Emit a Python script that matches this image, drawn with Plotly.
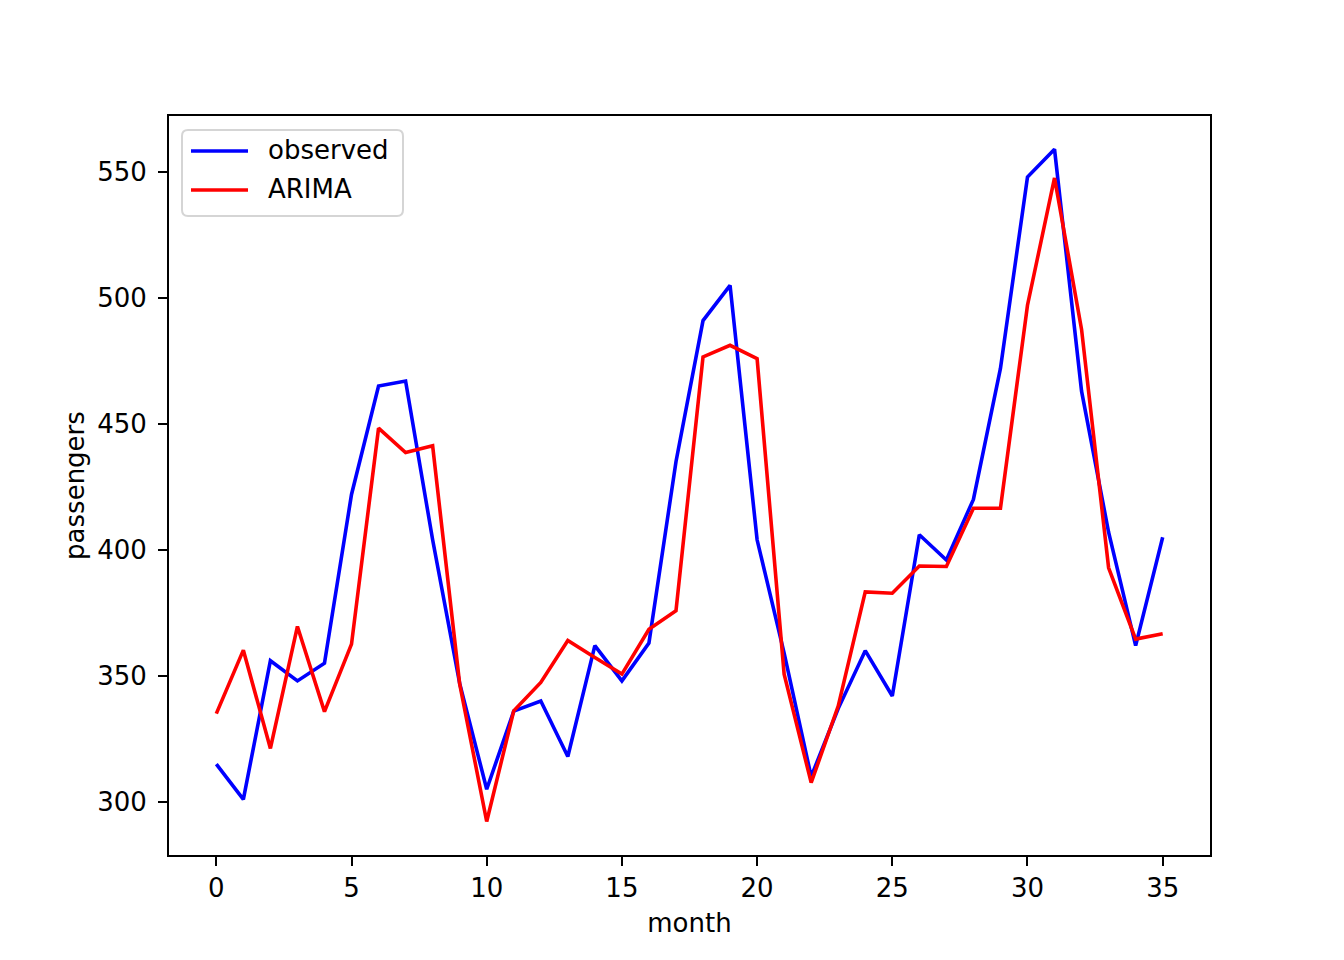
import plotly.graph_objects as go

months = list(range(36))
observed = [315, 301, 356, 348, 355, 422, 465, 467, 404, 347, 305, 336,
            340, 318, 362, 348, 363, 435, 491, 505, 404, 359, 310, 337,
            360, 342, 406, 396, 420, 472, 548, 559, 463, 407, 362, 405]
arima = [335.0, 360.2, 321.2, 369.6, 335.8, 362.6, 448.3, 438.6, 441.3, 346.8, 292.2, 336.1,
         347.4, 364.0, 357.3, 350.7, 368.5, 375.8, 476.6, 481.2, 475.9, 350.7, 307.6, 338.0,
         383.3, 382.8, 393.6, 393.4, 416.5, 416.5, 497.1, 547.6, 487.5, 392.9, 364.6, 366.7]
x_ticks = [0, 5, 10, 15, 20, 25, 30, 35]
y_ticks = [300, 350, 400, 450, 500, 550]
series_names = ["observed", "ARIMA"]
series_colors = ["#0000ff", "#ff0000"]

FONT = "DejaVu Sans"
FS = 26
LW = 3.6

# plot area geometry (figure pixels)
W, H = 1328, 944
L, T = 161, 108
PW, PH = 1041, 739

def px(sx):
    return (sx - L) / PW

def py(sy):
    return (T + PH - sy) / PH

fig = go.Figure()
for name, vals, col in zip(series_names, [observed, arima], series_colors):
    fig.add_trace(go.Scatter(x=months, y=vals, mode="lines", name=name,
                             line=dict(color=col, width=LW), showlegend=False))

axis_common = dict(showgrid=False, zeroline=False, showline=True, mirror=True,
                   linecolor="black", linewidth=2, ticks="outside", ticklen=9,
                   tickwidth=2, tickcolor="black",
                   tickfont=dict(family=FONT, size=FS, color="black"))

fig.update_xaxes(range=[-1.75, 36.75], tickvals=x_ticks,
                 title=dict(text="month", font=dict(family=FONT, size=FS, color="black"), standoff=12),
                 **axis_common)
fig.update_yaxes(range=[278.9, 572.2], tickvals=y_ticks, ticklabelstandoff=6,
                 title=dict(text="passengers", font=dict(family=FONT, size=FS, color="black"), standoff=5),
                 **axis_common)

# legend box (rounded) drawn in paper coordinates
x0, x1 = px(174), px(395)
y0, y1 = py(208), py(122)
rx, ry = 6 / PW, 6 / PH
path = (f"M {x0+rx},{y1} L {x1-rx},{y1} Q {x1},{y1} {x1},{y1-ry} "
        f"L {x1},{y0+ry} Q {x1},{y0} {x1-rx},{y0} L {x0+rx},{y0} "
        f"Q {x0},{y0} {x0},{y0+ry} L {x0},{y1-ry} Q {x0},{y1} {x0+rx},{y1} Z")
shapes = [dict(type="path", xref="paper", yref="paper", path=path,
               fillcolor="rgba(255,255,255,0.8)", line=dict(color="#d5d5d5", width=2),
               layer="above")]
annotations = []
for i, (name, col) in enumerate(zip(series_names, series_colors)):
    sy = 143 + i * 39
    shapes.append(dict(type="line", xref="paper", yref="paper",
                       x0=px(183), x1=px(240), y0=py(sy), y1=py(sy),
                       line=dict(color=col, width=LW), layer="above"))
    annotations.append(dict(text=name, xref="paper", yref="paper",
                            x=px(258), y=py(sy - 1), xanchor="left", yanchor="middle",
                            showarrow=False, font=dict(family=FONT, size=FS, color="black")))

fig.update_layout(
    width=W, height=H,
    margin=dict(l=L, r=W - L - PW, t=T, b=H - T - PH),
    paper_bgcolor="white", plot_bgcolor="white",
    font=dict(family=FONT, size=FS, color="black"),
    showlegend=False,
    shapes=shapes, annotations=annotations,
)

fig.write_html("out.html")
